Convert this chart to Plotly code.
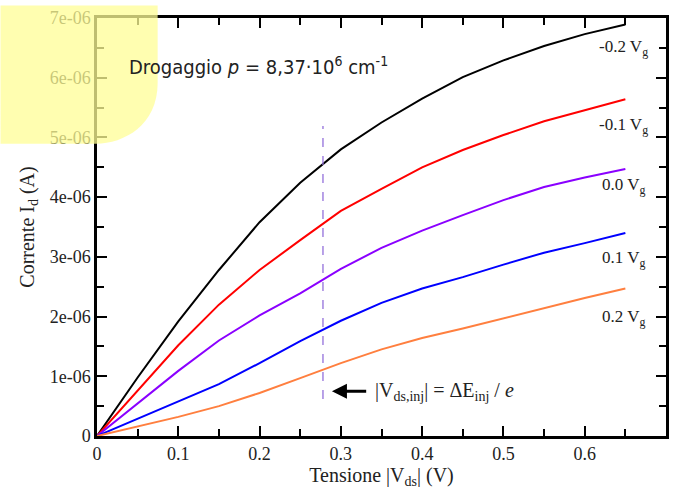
import plotly.graph_objects as go

# Data
vds = [0, 0.05, 0.1, 0.15, 0.2, 0.25, 0.3, 0.35, 0.4, 0.45, 0.5, 0.55, 0.6, 0.65]
id_m02 = [0, 0.98, 1.92, 2.78, 3.58, 4.24, 4.80, 5.25, 5.65, 6.01, 6.29, 6.53, 6.73, 6.89]
id_m01 = [0, 0.76, 1.52, 2.20, 2.78, 3.28, 3.77, 4.14, 4.50, 4.79, 5.04, 5.27, 5.46, 5.64]
id_00 = [0, 0.55, 1.09, 1.60, 2.02, 2.39, 2.80, 3.15, 3.44, 3.70, 3.95, 4.17, 4.33, 4.47]
id_01 = [0, 0.29, 0.57, 0.87, 1.22, 1.59, 1.93, 2.23, 2.47, 2.66, 2.87, 3.07, 3.23, 3.40]
id_02 = [0, 0.16, 0.32, 0.50, 0.72, 0.97, 1.22, 1.45, 1.64, 1.80, 1.97, 2.15, 2.31, 2.47]

series_names = ["-0.2 V<sub>g</sub>", "-0.1 V<sub>g</sub>", "0.0 V<sub>g</sub>", "0.1 V<sub>g</sub>", "0.2 V<sub>g</sub>"]
series_vals = [id_m02, id_m01, id_00, id_01, id_02]
series_colors = ["#000000", "#ff0000", "#8a00ff", "#0000ff", "#ff7f3f"]
label_y = [6.50, 5.19, 4.18, 2.97, 1.98]

vinj = 0.278
vinj_range = [0.62, 5.19]

xtick_vals = [0, 0.1, 0.2, 0.3, 0.4, 0.5, 0.6]
xtick_text = ["0", "0.1", "0.2", "0.3", "0.4", "0.5", "0.6"]
ytick_vals = [0, 1e-6, 2e-6, 3e-6, 4e-6, 5e-6, 6e-6, 7e-6]
ytick_text = ["0", "1e-06", "2e-06", "3e-06", "4e-06", "5e-06", "6e-06", "7e-06"]

SERIF = "Liberation Serif, Times New Roman, serif"

fig = go.Figure()
for name, vals, col in zip(series_names, series_vals, series_colors):
    fig.add_trace(go.Scatter(x=vds, y=[v * 1e-6 for v in vals], mode="lines",
                             line=dict(color=col, width=2),
                             name=name, showlegend=False))

fig.add_trace(go.Scatter(x=[vinj, vinj], y=[v * 1e-6 for v in vinj_range], mode="lines",
                         line=dict(color="#9370DB", width=1.3, dash="dash"), showlegend=False))

annotations = []
for name, ly in zip(series_names, label_y):
    annotations.append(dict(x=0.648, y=ly * 1e-6, text=name, showarrow=False,
                            xanchor="center", yanchor="middle",
                            font=dict(family=SERIF, size=17, color="#222")))

annotations.append(dict(x=0.289, y=0.75e-6, ax=0.333, ay=0.75e-6, axref="x", ayref="y",
                        xref="x", yref="y", text="", showarrow=True, arrowhead=2,
                        arrowsize=1, arrowwidth=3, arrowcolor="black"))
annotations.append(dict(x=0.340, y=0.75e-6, xanchor="left", yanchor="middle", showarrow=False,
                        text="|V<sub>ds,inj</sub>| = ΔE<sub>inj</sub> / <i>e</i>",
                        font=dict(family=SERIF, size=20, color="#222")))

annotations.append(dict(xref="paper", yref="paper", x=0.053, y=0.885, xanchor="left",
                        yanchor="middle", showarrow=False,
                        text="Drogaggio <i>p</i> = 8,37·10<sup>6</sup> cm<sup>-1</sup>",
                        font=dict(family="DejaVu Sans Condensed, Noto Sans, sans-serif",
                                  size=20, color="#222")))

# decorative rounded yellow panel (paper coordinates)
x0, x1 = -0.1696, 0.1066
y_top, y_round, y_bot = 1.03, 0.845, 0.6993
xr = -0.0017
path = (f"M {x0},{y_top} L {x1},{y_top} L {x1},{y_round} "
        f"C {x1},{y_bot + (y_round - y_bot) * 0.3} {xr + (x1 - xr) * 0.45},{y_bot} {xr},{y_bot} "
        f"L {x0},{y_bot} Z")

fig.update_layout(
    width=677, height=489,
    margin=dict(l=97, r=8, t=12, b=51),
    paper_bgcolor="white", plot_bgcolor="white",
    annotations=annotations,
    shapes=[dict(type="path", xref="paper", yref="paper", path=path,
                 fillcolor="rgb(255,253,150)", opacity=0.75, line=dict(width=0),
                 layer="above")],
    xaxis=dict(range=[0, 0.7], tickvals=xtick_vals, ticktext=xtick_text,
               ticks="inside", ticklen=10, tickwidth=1.5, tickcolor="black",
               showline=True, linecolor="black", linewidth=2.5, mirror="ticks",
               showgrid=False, zeroline=False,
               minor=dict(tickvals=[0.05, 0.15, 0.25, 0.35, 0.45, 0.55, 0.65],
                          ticks="inside", ticklen=7, tickwidth=1.5, tickcolor="black"),
               tickfont=dict(family=SERIF, size=18, color="#222"),
               title=dict(text="Tensione |V<sub>ds</sub>| (V)",
                          font=dict(family=SERIF, size=20, color="#222"), standoff=3)),
    yaxis=dict(range=[0, 7e-6], tickvals=ytick_vals, ticktext=ytick_text,
               ticks="inside", ticklen=10, tickwidth=1.5, tickcolor="black",
               showline=True, linecolor="black", linewidth=2.5, mirror="ticks",
               showgrid=False, zeroline=False,
               minor=dict(tickvals=[0.5e-6, 1.5e-6, 2.5e-6, 3.5e-6, 4.5e-6, 5.5e-6, 6.5e-6],
                          ticks="inside", ticklen=7, tickwidth=1.5, tickcolor="black"),
               tickfont=dict(family=SERIF, size=18, color="#222"),
               title=dict(text="Corrente I<sub>d</sub> (A)",
                          font=dict(family=SERIF, size=20, color="#222"), standoff=10)),
)

fig.write_html("out.html")
